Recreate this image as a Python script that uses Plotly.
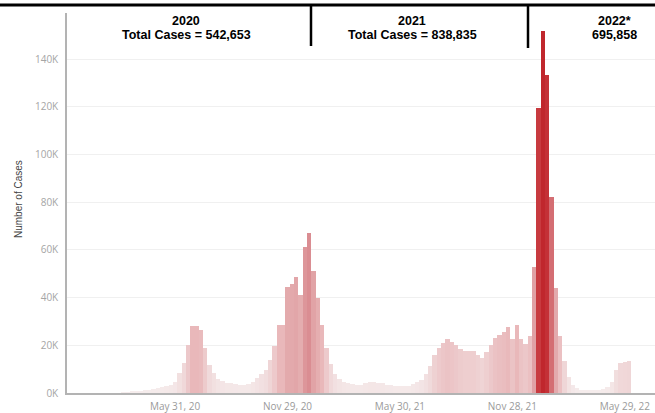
import plotly.graph_objects as go
import pandas as pd

# Weekly case counts, weeks starting 2020-03-08
week_start = "2020-03-08"
cases = [
    100, 300, 500, 700, 900, 1100, 1400, 1700, 2000, 2400, 3000, 3500,
    4500, 8300, 12500, 20000, 28000, 28000, 26500, 18800,
    11600, 8300, 6000, 5000, 4300, 4000, 3800, 3500, 3400, 3600,
    4800, 6200, 7800, 9800, 14000, 19600, 28500, 28500,
    44500, 45500, 48700, 41000, 61000,
    67000, 51000, 40000, 28500, 19000, 12000, 8000,
    6000, 4800, 4000, 3600, 3400, 3500, 4200, 4800, 4800, 4400,
    4000, 3500, 3200, 2900, 2800, 2800, 3000, 3600, 4500, 5500,
    8000, 11500, 16000, 19000, 21000, 22500, 21500, 20000, 18500, 17500,
    17500, 17500, 15800, 14600, 17000, 20000, 23000, 24500, 25500, 27800,
    22500, 28400, 22500, 20500, 24000,
    53000, 119500, 151600, 133400, 82000, 44000, 24000, 13500, 6500,
    3200, 2000, 1400, 1200, 1100, 1100, 1200, 1800, 2500, 4600,
    9500, 12600, 13000, 13400,
]
dates = pd.date_range(week_start, periods=len(cases), freq="7D")

tick_dates = ["2020-05-31", "2020-11-29", "2021-05-30", "2021-11-28", "2022-05-29"]
tick_text = ["May 31, 20", "Nov 29, 20", "May 30, 21", "Nov 28, 21", "May 29, 22"]
y_ticks = [0, 20000, 40000, 60000, 80000, 100000, 120000, 140000]
y_tick_text = ["0K", "20K", "40K", "60K", "80K", "100K", "120K", "140K"]

year_labels = ["2020", "2021", "2022*"]
year_totals = ["Total Cases = 542,653", "Total Cases = 838,835", "695,858"]

colorscale = [
    [0.0, "#f6eeee"],
    [0.08, "#f0d9da"],
    [0.18, "#e9b9bb"],
    [0.32, "#e2a6a9"],
    [0.44, "#da8e93"],
    [0.6, "#d05c61"],
    [0.8, "#c7383d"],
    [1.0, "#c0272d"],
]

fig = go.Figure()
fig.add_trace(go.Bar(
    x=dates, y=cases,
    width=7 * 86400000,
    marker=dict(color=cases, colorscale=colorscale, cmin=0, cmax=max(cases),
                line=dict(width=0)),
    showlegend=False,
    hovertemplate="%{x|%b %d, %Y}: %{y:,}<extra></extra>",
))

W, H = 655, 413
L, R, T, B = 67, 0, 13, 20
pw, ph = W - L - R, H - T - B

def px(xp):
    return (xp - L) / pw

def py(yp):
    return (H - B - yp) / ph

shapes = [
    dict(type="line", xref="paper", yref="paper", x0=px(0), x1=px(W), y0=py(5), y1=py(5),
         line=dict(color="black", width=3)),
    dict(type="line", xref="paper", yref="paper", x0=px(311), x1=px(311), y0=py(4), y1=py(46),
         line=dict(color="black", width=2.5)),
    dict(type="line", xref="paper", yref="paper", x0=px(528), x1=px(528), y0=py(4), y1=py(48),
         line=dict(color="black", width=2.5)),
]

annotations = []
centers = [186, 412, 614]
for cx, lab, tot in zip(centers, year_labels, year_totals):
    annotations.append(dict(xref="paper", yref="paper", x=px(cx), y=py(21), text=lab,
                            showarrow=False, xanchor="center", yanchor="middle",
                            font=dict(family="Liberation Sans, Arial", size=12.5, color="black", weight="bold")))
    annotations.append(dict(xref="paper", yref="paper", x=px(cx), y=py(34.5), text=tot,
                            showarrow=False, xanchor="center", yanchor="middle",
                            font=dict(family="Liberation Sans, Arial", size=12.5, color="black", weight="bold")))
annotations.append(dict(xref="paper", yref="paper", x=px(18), y=py(199), text="Number of Cases",
                        textangle=-90, showarrow=False, xanchor="center", yanchor="middle",
                        font=dict(family="Liberation Sans, Arial", size=10, color="#444444")))

fig.update_layout(
    width=W, height=H,
    margin=dict(l=L, r=R, t=T, b=B, pad=0),
    paper_bgcolor="white", plot_bgcolor="white",
    bargap=0,
    shapes=shapes,
    annotations=annotations,
    xaxis=dict(
        type="date",
        range=["2019-12-08 05:00", "2022-07-16 17:00"],
        tickvals=tick_dates, ticktext=tick_text,
        showgrid=False, zeroline=False,
        showline=True, linecolor="#b3b3b3", linewidth=1.5,
        ticks="outside", ticklen=3, tickcolor="rgba(0,0,0,0)",
        tickfont=dict(family="Open Sans", size=10, color="#9a9a9a"),
    ),
    yaxis=dict(
        range=[0, 159300],
        tickvals=y_ticks, ticktext=y_tick_text,
        showgrid=True, gridcolor="#f0f0f0", gridwidth=1,
        zeroline=False,
        showline=True, linecolor="#b3b3b3", linewidth=1.5,
        ticks="outside", ticklen=5, tickcolor="rgba(0,0,0,0)",
        tickfont=dict(family="Open Sans", size=10, color="#a5a5a5"),
    ),
)

fig.write_html("out.html", config={"displayModeBar": False},
               post_script="document.body.style.margin='0';document.body.style.overflow='hidden';")
